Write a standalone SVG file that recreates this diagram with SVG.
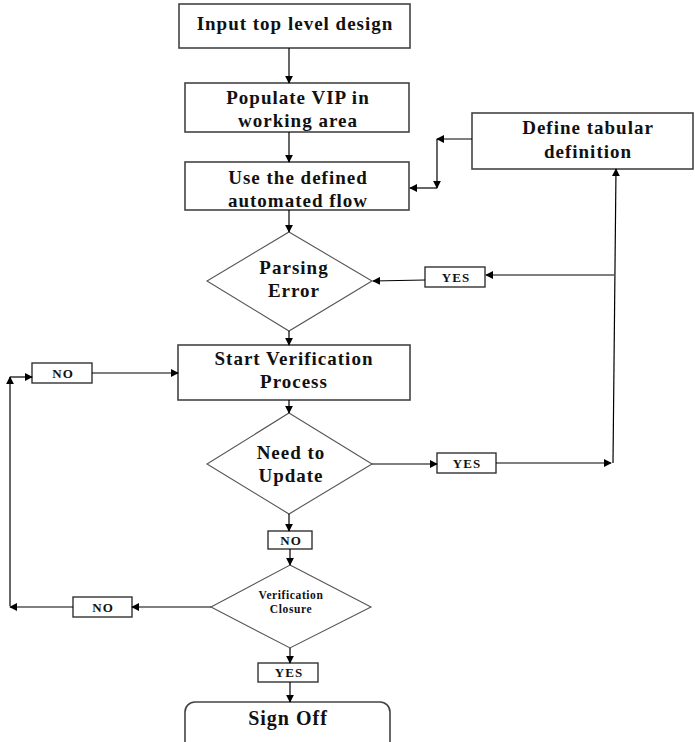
<svg xmlns="http://www.w3.org/2000/svg" width="695" height="742" viewBox="0 0 695 742">
  <defs>
    <marker id="arrow" viewBox="0 0 10 10" refX="9" refY="5" markerWidth="8" markerHeight="8" markerUnits="userSpaceOnUse" orient="auto">
      <path d="M0,0 L10,5 L0,10 z" fill="#000"/>
    </marker>
    <style>
      .box { fill: #fff; stroke: #444; stroke-width: 1.6; }
      .dia { fill: #fff; stroke: #555; stroke-width: 1.1; }
      .tag { fill: #fff; stroke: #333; stroke-width: 1.4; }
      .t { font-family: "Liberation Serif", "Times New Roman", "DejaVu Serif", serif; font-weight: bold; fill: #111; text-anchor: middle; }
      .big { font-size: 19px; letter-spacing: 1px; }
      .small { font-size: 13px; letter-spacing: 1px; }
      .tiny { font-size: 11.5px; letter-spacing: 0.6px; }
      .c { fill: none; stroke: #000; stroke-width: 1.2; }
      .c.a { marker-end: url(#arrow); }
    </style>
  </defs>
  <rect width="695" height="742" fill="#fff"/>

  <!-- process boxes -->
  <g id="input-design">
    <rect class="box" x="179" y="4" width="231" height="44"/>
    <text class="t big" x="295" y="30">Input top level design</text>
  </g>
  <g id="populate-vip">
    <rect class="box" x="185" y="83" width="224" height="49"/>
    <text class="t big" x="298" y="104">Populate VIP in</text>
    <text class="t big" x="298" y="127">working area</text>
  </g>
  <g id="automated-flow">
    <rect class="box" x="185" y="162" width="224" height="48"/>
    <text class="t big" x="298" y="184">Use the defined</text>
    <text class="t big" x="298" y="207">automated flow</text>
  </g>
  <g id="tabular-definition">
    <rect class="box" x="472" y="113" width="221" height="56"/>
    <text class="t big" x="588" y="134">Define tabular</text>
    <text class="t big" x="588" y="158">definition</text>
  </g>
  <g id="parsing-error">
    <polygon class="dia" points="289,232 372,281 289,331 207,281"/>
    <text class="t big" x="294" y="274">Parsing</text>
    <text class="t big" x="294" y="297">Error</text>
  </g>
  <g id="parsing-yes">
    <rect class="tag" x="425" y="267" width="60" height="20"/>
    <text class="t small" x="456" y="282">YES</text>
  </g>
  <g id="start-verification">
    <rect class="box" x="178" y="345" width="232" height="55"/>
    <text class="t big" x="294" y="365">Start Verification</text>
    <text class="t big" x="294" y="388">Process</text>
  </g>
  <g id="loop-no">
    <rect class="tag" x="32" y="363" width="60" height="20"/>
    <text class="t small" x="63" y="378">NO</text>
  </g>
  <g id="need-update">
    <polygon class="dia" points="289,413 372,464 289,514 207,464"/>
    <text class="t big" x="291" y="459">Need to</text>
    <text class="t big" x="291" y="482">Update</text>
  </g>
  <g id="update-yes">
    <rect class="tag" x="437" y="453" width="59" height="20"/>
    <text class="t small" x="467" y="468">YES</text>
  </g>
  <g id="update-no">
    <rect class="tag" x="268" y="531" width="44" height="18"/>
    <text class="t small" x="291" y="545">NO</text>
  </g>
  <g id="verification-closure">
    <polygon class="dia" points="290,565 371,607 290,648 211,607"/>
    <text class="t tiny" x="291" y="599">Verification</text>
    <text class="t tiny" x="291" y="613">Closure</text>
  </g>
  <g id="closure-no">
    <rect class="tag" x="73" y="597" width="59" height="20"/>
    <text class="t small" x="103" y="612">NO</text>
  </g>
  <g id="closure-yes">
    <rect class="tag" x="258" y="663" width="60" height="19"/>
    <text class="t small" x="289" y="677">YES</text>
  </g>
  <g id="sign-off">
    <rect class="box" x="185" y="702" width="205" height="60" rx="10"/>
    <text class="t big" x="288" y="725" style="font-size:20px">Sign Off</text>
  </g>

  <!-- connectors -->
  <g id="connectors">
    <line class="c a" x1="289" y1="48" x2="289" y2="83"/>
    <line class="c a" x1="289" y1="132" x2="289" y2="162"/>
    <line class="c a" x1="472" y1="139" x2="437" y2="139"/>
    <line class="c a" x1="437" y1="139" x2="437" y2="188"/>
    <line class="c a" x1="437" y1="188" x2="410" y2="188"/>
    <line class="c a" x1="289" y1="210" x2="289" y2="232"/>
    <line class="c a" x1="614" y1="275" x2="486" y2="275"/>
    <line class="c a" x1="425" y1="280" x2="373" y2="281"/>
    <line class="c a" x1="289" y1="331" x2="289" y2="345"/>
    <line class="c a" x1="10" y1="606" x2="10" y2="377"/>
    <line class="c a" x1="10" y1="377" x2="32" y2="377"/>
    <line class="c a" x1="92" y1="373" x2="178" y2="373"/>
    <line class="c a" x1="289" y1="400" x2="289" y2="413"/>
    <line class="c a" x1="372" y1="464" x2="437" y2="464"/>
    <line class="c a" x1="496" y1="463" x2="611" y2="463"/>
    <line class="c a" x1="613" y1="463" x2="616" y2="169"/>
    <line class="c a" x1="289" y1="514" x2="289" y2="531"/>
    <line class="c a" x1="290" y1="549" x2="290" y2="565"/>
    <line class="c a" x1="211" y1="607" x2="132" y2="607"/>
    <line class="c a" x1="73" y1="607" x2="10" y2="607"/>
    <line class="c a" x1="290" y1="648" x2="290" y2="663"/>
    <line class="c a" x1="290" y1="682" x2="290" y2="702"/>
  </g>
</svg>
